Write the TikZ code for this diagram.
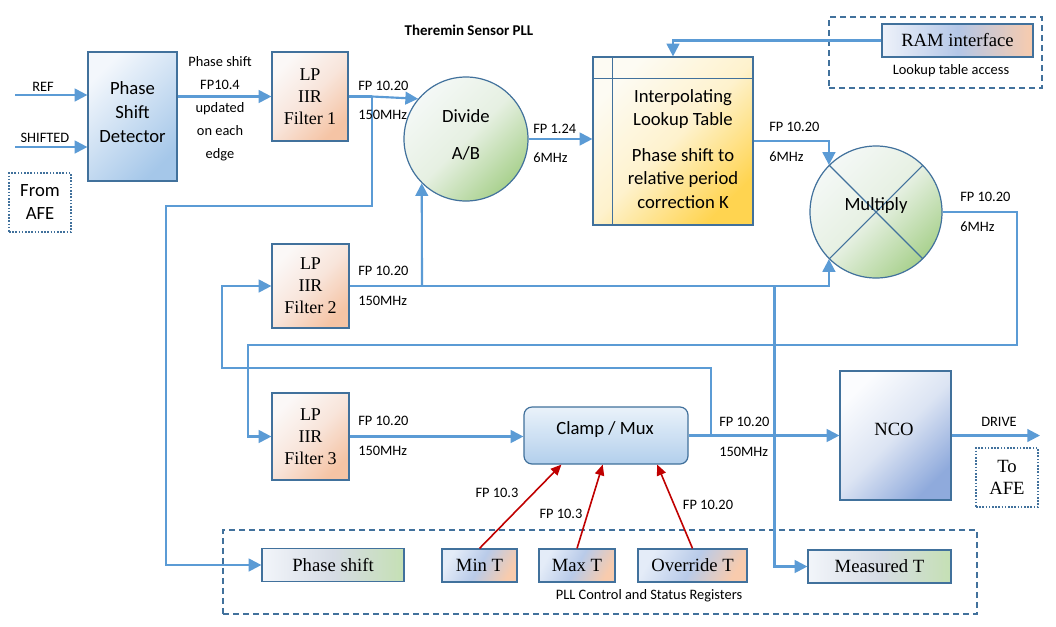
\documentclass[tikz,border=0pt]{standalone}
\usepackage{fontspec}
\setmainfont{Carlito}
\newfontfamily\serf{Liberation Serif}
\usetikzlibrary{arrows.meta,calc}
\definecolor{lineblue}{HTML}{5B9BD5}
\definecolor{bord}{HTML}{41719C}
\definecolor{dred}{HTML}{C00000}
\definecolor{psdA}{HTML}{F3F7FC}
\definecolor{psdB}{HTML}{A5C7E9}
\definecolor{filA}{HTML}{FBF8F7}
\definecolor{filM}{HTML}{F8E5DB}
\definecolor{filB}{HTML}{F5C4A5}
\definecolor{grnA}{HTML}{F4F8F6}
\definecolor{grnM}{HTML}{E6F0E2}
\definecolor{grnB}{HTML}{A9D18E}
\definecolor{lutA}{HTML}{FDFBF3}
\definecolor{lutM}{HTML}{FEF2CD}
\definecolor{lutB}{HTML}{FFD450}
\definecolor{clA}{HTML}{EAF2FA}
\definecolor{clB}{HTML}{B2CFEC}
\definecolor{ncoA}{HTML}{FBFCFE}
\definecolor{ncoM}{HTML}{DCE4F3}
\definecolor{ncoB}{HTML}{8FAADC}
\definecolor{ramA}{HTML}{EEF2FA}
\definecolor{ramM}{HTML}{B4C7E7}
\definecolor{ramB}{HTML}{F8CBAD}
\definecolor{regA}{HTML}{E4ECF8}
\definecolor{regM}{HTML}{B9CBE9}
\definecolor{regB}{HTML}{F8CBAD}
\definecolor{grA}{HTML}{F2F5FA}
\definecolor{grM}{HTML}{D6DCE5}
\definecolor{grB}{HTML}{C5E0B4}
\tikzset{
  wh/.style 2 args={minimum width=#1*0.75pt,minimum height=#2*0.75pt,inner sep=0pt},
  blk/.style={draw=bord,line width=0.9pt},
  wire/.style={draw=lineblue,line width=1.6pt},
  arr/.style={wire,-{Triangle[length=9.5pt,width=9.5pt]}},
  rarr/.style={draw=dred,line width=1.2pt,-{Triangle[length=8pt,width=7pt]}},
  lbl/.style={font=\fontsize{10.8}{12.6}\selectfont,inner sep=0pt},
  big/.style={font=\fontsize{14}{18}\selectfont,align=center,inner sep=0pt},
  ser/.style={font=\serf\fontsize{13.5}{16.5}\selectfont,align=center},
  regtxt/.style={font=\serf\fontsize{14}{16}\selectfont},
  grp/.style={draw=bord,line width=1.1pt,dash pattern=on 4.5pt off 3pt},
  dotbox/.style={draw=bord,line width=1.1pt,dash pattern=on 1.2pt off 1.2pt},
  psdfill/.style={top color=psdA,bottom color=psdB,shading angle=45},
  filtfill/.style={top color=filA,bottom color=filB,middle color=filM,shading angle=45},
  grnfill/.style={top color=grnA,bottom color=grnB,middle color=grnM,shading angle=45},
  lutfill/.style={top color=lutA,bottom color=lutB,middle color=lutM,shading angle=45},
  clampfill/.style={top color=clA,bottom color=clB},
  ncofill/.style={top color=ncoA,bottom color=ncoB,middle color=ncoM,shading angle=45},
  ramfill/.style={left color=ramA,right color=ramB,middle color=ramM},
  regfill/.style={top color=regA,bottom color=regB,middle color=regM,shading angle=60},
  greenreg/.style={left color=grA,right color=grB,middle color=grM}
}
\begin{document}
\begin{tikzpicture}[x=0.75pt,y=-0.75pt]
\fill[white] (0,0) rectangle (1056,626);
\useasboundingbox (0,0) rectangle (1056,626);

% groups
\node[grp,wh={213}{71}] (ramgrp) at (935.5,52.5) {};
\node[grp,wh={754}{84}] (reggrp) at (600,572) {};
\node[dotbox,wh={62}{59},align=center,font=\fontsize{14}{17.25}\selectfont] (fromafe) at (40,202.5) {From\\AFE};
\node[dotbox,wh={62}{59},align=center,font=\serf\fontsize{14}{16.5}\selectfont] (toafe) at (1007,477.5) {To\\AFE};

% blocks
\node[blk,psdfill,wh={89}{129}] (psd) at (132.5,116.5) {};
\node[big] (psdtxt) at (132.5,112) {Phase\\Shift\\Detector};
\node[blk,filtfill,wh={76}{89},ser] (f1) at (310,96.5) {LP\\IIR\\Filter 1};
\node[blk,filtfill,wh={77}{84},ser] (f2) at (310.5,286) {LP\\IIR\\Filter 2};
\node[blk,filtfill,wh={77}{87},ser] (f3) at (310.5,436.5) {LP\\IIR\\Filter 3};
\node[blk,grnfill,circle,minimum size=124*0.75pt,inner sep=0pt] (div) at (466,139) {};
\node[align=center,inner sep=0pt,font=\fontsize{14}{27.75}\selectfont] (divtxt) at (466,135) {Divide\\A/B};
\node[blk,lutfill,wh={160}{168}] (lut) at (673,141) {};
\draw[bord,line width=0.9pt] ([xshift=15pt]lut.north west) -- ([xshift=15pt]lut.south west);
\draw[bord,line width=0.9pt] ([yshift=-16.5pt]lut.north west) -- ([yshift=-16.5pt]lut.north east);
\node[align=center,inner sep=0pt,font=\fontsize{14}{17.6}\selectfont] (luttxt) at (683,149) {Interpolating\\Lookup Table\\[9pt]Phase shift to\\relative period\\correction K};
\node[blk,ramfill,wh={151}{33},regtxt] (ram) at (957.5,40.5) {RAM interface};
\node[blk,grnfill,circle,minimum size=132*0.75pt,inner sep=0pt] (mult) at (876,212) {};
\draw[bord,line width=0.8pt] (mult.45) -- (mult.225);
\draw[bord,line width=0.8pt] (mult.135) -- (mult.315);
\node[font=\fontsize{14}{16}\selectfont,inner sep=0pt] (multtxt) at (876,206) {Multiply};
\node[blk,clampfill,wh={164}{57},rounded corners=6pt] (clamp) at (606,435.5) {};
\node[font=\fontsize{14}{16}\selectfont,inner sep=0pt] (clamptxt) at (605,430) {Clamp / Mux};
\node[blk,ncofill,wh={111}{129}] (nco) at (895.5,435.5) {};
\node[regtxt,inner sep=0pt] (ncotxt) at (894,429) {NCO};

% registers
\node[blk,greenreg,wh={142}{33},regtxt] (ps) at (333,565) {Phase shift};
\node[blk,regfill,wh={75}{33},regtxt] (mint) at (479.5,565.5) {Min T};
\node[blk,regfill,wh={76}{33},regtxt] (maxt) at (577,565.5) {Max T};
\node[blk,regfill,wh={109}{33},regtxt] (ovt) at (692.5,565.5) {Override T};
\node[blk,greenreg,wh={143}{33},regtxt] (meas) at (879.5,566.5) {Measured T};

% coordinates
\coordinate (refin) at (15,95);
\coordinate (shin) at (15,147);
\coordinate (b1) at (372,96.5);
\coordinate (k1) at (166,206);
\coordinate (b2) at (422,286);
\coordinate (b3) at (774.5,286);
\coordinate (c1) at (1017,345);
\coordinate (c2) at (248,436.5);
\coordinate (b4) at (711,435.5);
\coordinate (d1) at (222,368);
\coordinate (drv) at (1040,435.5);

% connectors
\draw[arr] (refin) -- (refin -| psd.west);
\draw[arr] (shin) -- (shin -| psd.west);
\draw[arr] (psd.east |- f1.west) -- (f1.west);
\draw[wire] (f1.east) -- (b1);
\draw[arr] (b1) -- (div.140);
\draw[arr] (b1) |- (k1) |- (ps.west);
\draw[arr] (div.east) -- (div.east -| lut.west);
\draw[arr] (ram.west) -| (lut.north);
\draw[arr] (lut.east) -| (mult.135);
\draw[arr] (f2.east) -| (mult.225);
\draw[arr] (b2) -- (div.225);
\draw[arr] (b3) |- (meas.west);
\draw[arr] (mult.east) -| (c1) -| (c2) -- (f3.west);
\draw[arr] (f3.east) -- (f3.east -| clamp.west);
\draw[arr] (clamp.east) -- (clamp.east -| nco.west);
\draw[arr] (b4) |- (d1) |- (f2.west);
\draw[arr] (nco.east) -- (drv);
\draw[rarr] (mint.north) -- ($(clamp.south west)!0.23!(clamp.south east)$);
\draw[rarr] (maxt.north) -- ($(clamp.south west)!0.48!(clamp.south east)$);
\draw[rarr] (ovt.north) -- ($(clamp.south west)!0.81!(clamp.south east)$);

% labels
\node[lbl,font=\bfseries\fontsize{11.2}{12.6}\selectfont] (title) at (469,30) {Theremin Sensor PLL};
\node[lbl] (tref) at (43,87) {REF};
\node[lbl] (tsh) at (45,138) {SHIFTED};
\node[lbl,align=center,font=\fontsize{10.8}{17.25}\selectfont] (tph) at (220,109) {Phase shift\\FP10.4\\updated\\on each\\edge};
\node[lbl,anchor=west] (l1a) at (358,86) {FP 10.20};
\node[lbl,anchor=west] (l1b) at (358,115) {150MHz};
\node[lbl,anchor=west] (l2a) at (533,129) {FP 1.24};
\node[lbl,anchor=west] (l2b) at (533,158) {6MHz};
\node[lbl,anchor=west] (l3a) at (769,127) {FP 10.20};
\node[lbl,anchor=west] (l3b) at (769,157) {6MHz};
\node[lbl,anchor=west] (l4a) at (960,197) {FP 10.20};
\node[lbl,anchor=west] (l4b) at (960,227) {6MHz};
\node[lbl,anchor=west] (l5a) at (358,271) {FP 10.20};
\node[lbl,anchor=west] (l5b) at (358,301) {150MHz};
\node[lbl,anchor=west] (l6a) at (358,421) {FP 10.20};
\node[lbl,anchor=west] (l6b) at (358,451) {150MHz};
\node[lbl,anchor=west] (l7a) at (719,422) {FP 10.20};
\node[lbl,anchor=west] (l7b) at (719,452) {150MHz};
\node[lbl] (tdrv) at (999,422) {DRIVE};
\node[lbl] (r1) at (497,493) {FP 10.3};
\node[lbl] (r2) at (561,514) {FP 10.3};
\node[lbl] (r3) at (708,505) {FP 10.20};
\node[lbl] (treg) at (649,596) {PLL Control and Status Registers};
\node[lbl] (tram) at (951,71) {Lookup table access};
\end{tikzpicture}
\end{document}
